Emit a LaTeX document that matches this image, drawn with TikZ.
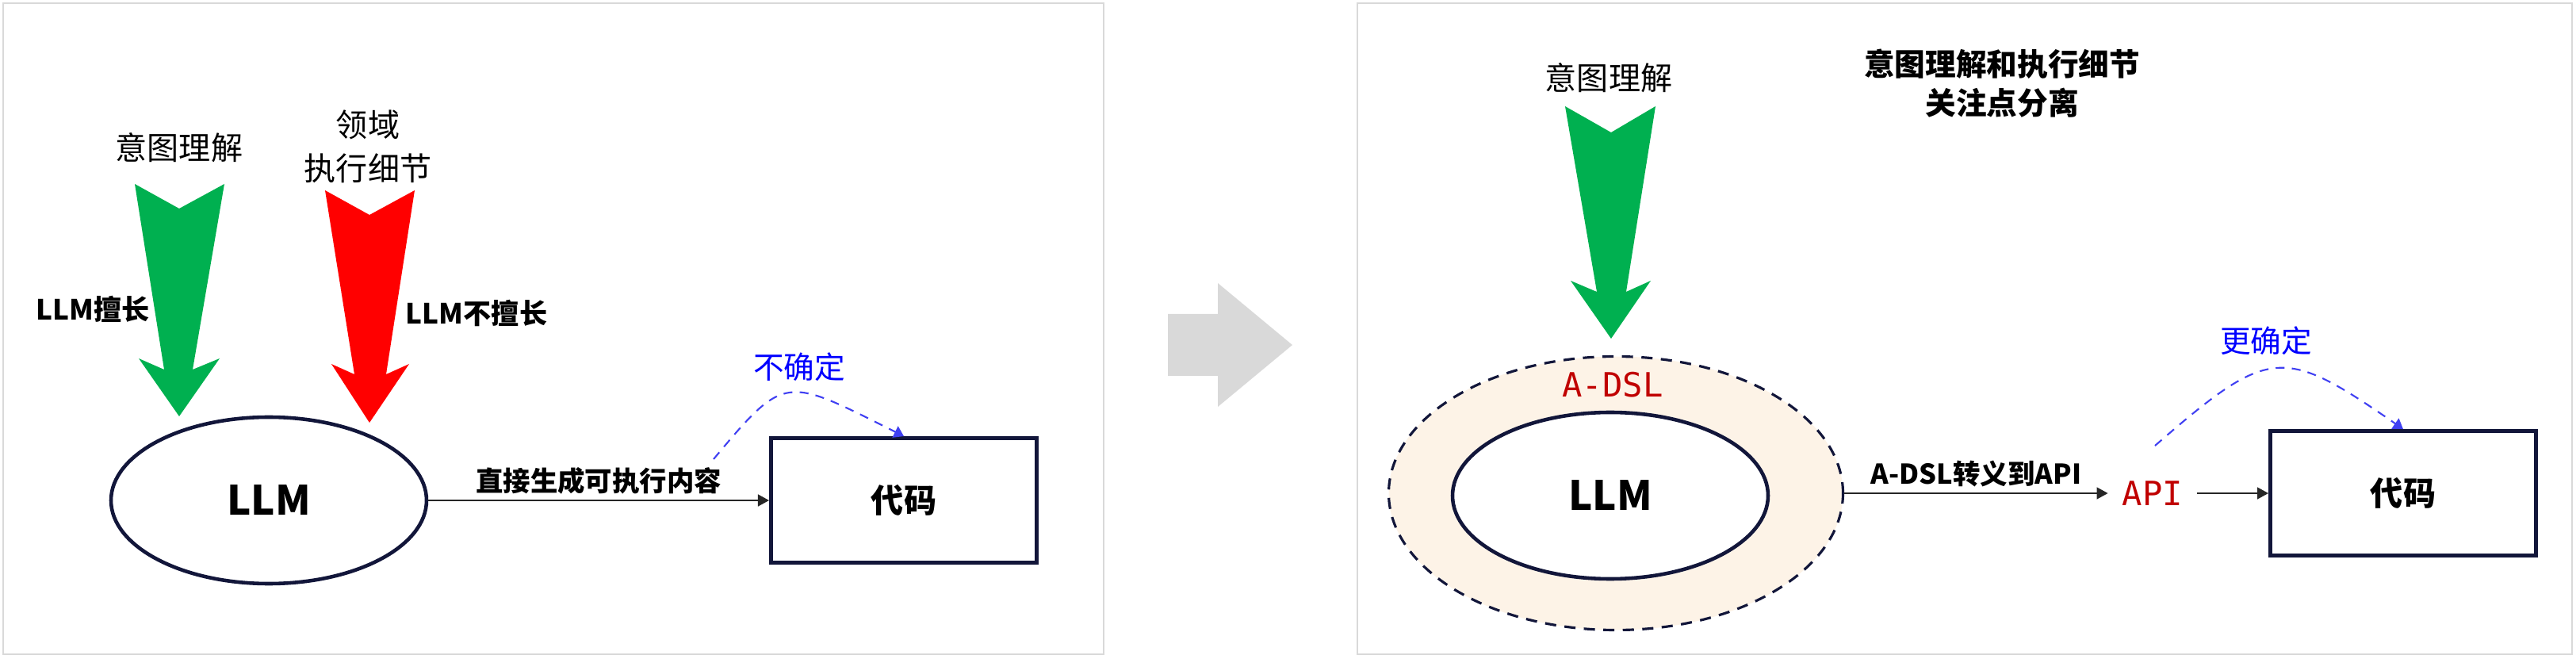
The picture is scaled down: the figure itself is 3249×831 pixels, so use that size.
\documentclass[tikz,border=0pt]{standalone}
\usepackage{fontspec}
\setmainfont{Noto Sans CJK SC}
\newfontfamily\codefont{DejaVu Sans Mono}
\usetikzlibrary{positioning, shapes.geometric, arrows.meta}
\definecolor{panelgray}{HTML}{D9D9D9}
\definecolor{stepgray}{HTML}{D9D9D9}
\definecolor{goodgreen}{HTML}{00B050}
\definecolor{badred}{HTML}{FF0000}
\definecolor{navy}{HTML}{12163A}
\definecolor{ringfill}{HTML}{FDF3E7}
\definecolor{dslred}{HTML}{C00000}
\definecolor{guessblue}{HTML}{4040F2}
\tikzset{
	panel/.style={draw=panelgray, line width=.6pt},
	goodarrow/.style={fill=goodgreen},
	badarrow/.style={fill=badred},
	llm/.style={ellipse, draw=navy, line width=1.3pt, fill=white, minimum width=39.8mm, minimum height=21mm, font=\fontsize{14.5}{17}\selectfont\bfseries},
	dslring/.style={ellipse, draw=navy, line width=.9pt, dash pattern=on 4pt off 3pt, fill=ringfill, minimum width=57.3mm, minimum height=34.5mm},
	codebox/.style={rectangle, draw=navy, line width=1.4pt, fill=white, minimum width=33.5mm, minimum height=15.7mm, font=\fontsize{11.7}{14}\selectfont\bfseries},
	flow/.style={draw=black!85, line width=.6pt, -{Triangle[length=4pt,width=4.2pt]}},
	flowlabel/.style={font=\fontsize{9.8}{12}\selectfont\bfseries, inner sep=2pt},
	guess/.style={draw=guessblue, line width=.6pt, dash pattern=on 3.2pt off 2.6pt, -{Triangle[length=3.5pt,width=4.5pt]}},
	unsure/.style={text=blue, font=\fontsize{11}{13}\selectfont},
	intent/.style={font=\fontsize{11.4}{15.6}\selectfont, align=center},
	verdict/.style={font=\fontsize{10}{12}\selectfont\bfseries},
	headline/.style={font=\fontsize{11}{14}\selectfont\bfseries, align=center},
	dsl/.style={text=dslred, font=\fontsize{12}{14}\selectfont\codefont, inner sep=5pt}
}

\begin{document}
\begin{tikzpicture}[x=0.1mm, y=-0.1mm]
\useasboundingbox (0,0) rectangle (3249,831);
\draw[panel] (4,4) rectangle (1392,825);
\draw[panel] (1712,4) rectangle (3244,825);
\fill[stepgray] (1473,396) -- (1536,396) -- (1536,357) -- (1630,435) -- (1536,513) -- (1536,474) -- (1473,474) -- cycle;

% left: LLM does everything
\fill[goodarrow] (170,232) -- (226,263) -- (283,232) -- (243,466) -- (277,452) -- (226,525) -- (175,452) -- (207,466) -- cycle;
\fill[badarrow] (410,240) -- (466,271) -- (523,240) -- (487,472) -- (516,459) -- (466,533) -- (418,459) -- (447,472) -- cycle;
\node[intent] (intentA) at (226,186) {意图理解};
\node[intent] (domain) at (464,185) {领域\\执行细节};
\node[verdict] (goodat) at (117,390) {LLM擅长};
\node[verdict] (badat) at (601,395) {LLM不擅长};
\node[llm] (llmA) at (339,631) {LLM};
\node[codebox] (codeA) at (1140,631) {代码};
\draw[flow] (llmA) -- node[above, flowlabel] (direct) {直接生成可执行内容} (codeA);
\coordinate (guessA) at (900,579);
\draw[guess] (guessA) .. controls (991,470) and (990,475) .. (codeA.north);
\node[unsure] (unsureA) at (1008,463) {不确定};

% right: A-DSL in between
\fill[goodarrow] (1974,134) -- (2032,167) -- (2088,134) -- (2051,368) -- (2082,354) -- (2032,427) -- (1981,354) -- (2014,368) -- cycle;
\node[intent] (intentB) at (2029,98) {意图理解};
\node[headline] (split) at (2525,105) {意图理解和执行细节\\关注点分离};
\node[dslring] (ring) at (2038,622) {};
\node[llm] (llmB) at (2031,625) {LLM};
\node[dsl] (dslname) at (2034,485) {A-DSL};
\node[dsl] (api) at (2715,622) {API};
\node[codebox] (codeB) at (3031,622) {代码};
\draw[flow] (ring) -- node[above, flowlabel] (escape) {A-DSL转义到API} (api);
\draw[flow] (api) -- (codeB);
\coordinate (guessB) at (2718,562);
\draw[guess] (guessB) .. controls (2863,436) and (2879,436) .. (codeB.north);
\node[unsure] (unsureB) at (2858,430) {更确定};
\end{tikzpicture}
\end{document}
